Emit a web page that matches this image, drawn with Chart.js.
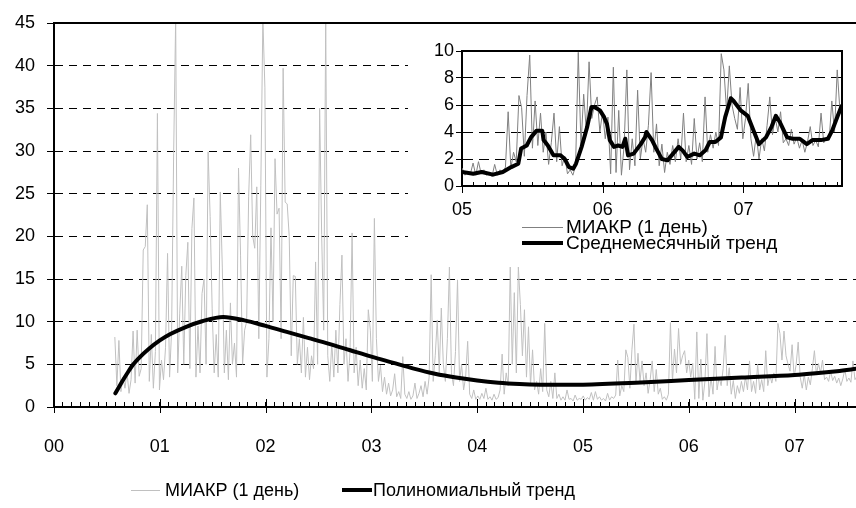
<!DOCTYPE html>
<html>
<head>
<meta charset="utf-8">
<script src="https://cdn.jsdelivr.net/npm/chart.js@4/dist/chart.umd.min.js"></script>
<style>
  body { margin: 0; background: #fff; }
  #wrap { position: relative; width: 856px; height: 508px; overflow: hidden; font-family: "Liberation Sans", Arial, sans-serif; }
  #insetBox { position: absolute; left: 408px; top: 25px; width: 448px; height: 233px; background: #fff; }
  .leg { position: absolute; display: flex; align-items: center; height: 20px; color: #000; white-space: nowrap; }
  .leg span.ln { display: inline-block; }
</style>
</head>
<body>
<div id="wrap">
  <canvas id="main" width="856" height="508"></canvas>
  <div id="insetBox">
    <canvas id="inset" width="448" height="196"></canvas>
    <div class="leg" style="left:114px;top:192px;font-size:19px;">
      <span class="ln" style="width:41px;border-top:1px solid #808080;"></span><span style="margin-left:3px">МИАКР (1 день)</span>
    </div>
    <div class="leg" style="left:114px;top:208px;font-size:19px;">
      <span class="ln" style="width:41px;border-top:4px solid #000;"></span><span style="margin-left:3px">Среднемесячный тренд</span>
    </div>
  </div>
  <div class="leg" style="left:131px;top:480px;font-size:18px;">
    <span class="ln" style="width:29px;border-top:1px solid #c0c0c0;"></span><span style="margin-left:5px">МИАКР (1 день)</span>
  </div>
  <div class="leg" style="left:342px;top:480px;font-size:18px;">
    <span class="ln" style="width:30px;border-top:4px solid #000;"></span><span style="margin-left:1px">Полиномиальный тренд</span>
  </div>
</div>
<script>
// weekly readings of the daily index, starting mid-2000 (x in years since 2000)
let dailyStart = 0.575;
let weekStep = 7 / 365.25;
let dailyValues = [
    8.2, 2.5, 7.8, 1.8, 3.5, 2.2, 4.1, 1.6, 3.2, 8.9, 2.8, 9.0, 3.6,
    4.5, 18.4, 18.8, 23.7, 3.0, 8.5, 2.2, 6.5, 34.4, 2.0, 5.5, 3.2, 7.0,
    18.0, 3.5, 9.0, 29.7, 45.5, 4.0, 11.0, 16.5, 5.0, 15.4, 19.3, 4.5, 20.9,
    24.5, 3.5, 9.5, 4.0, 13.3, 15.0, 5.0, 29.9, 22.3, 11.5, 4.0, 8.5, 3.5,
    25.2, 16.4, 4.0, 9.0, 3.2, 12.2, 5.0, 7.5, 3.5, 28.0, 17.8, 5.0, 9.0,
    10.0, 24.7, 31.9, 20.0, 18.6, 25.8, 8.0, 26.0, 45.5, 37.4, 3.5, 8.0, 21.0,
    10.0, 29.1, 22.6, 23.3, 8.0, 39.7, 24.0, 23.8, 20.0, 6.0, 15.4, 15.3, 5.0,
    8.0, 4.0, 10.5, 3.5, 7.0, 3.2, 6.0, 4.5, 17.0, 5.0, 35.0, 20.2, 9.0,
    45.5, 6.0, 3.0, 7.5, 3.5, 9.0, 4.0, 12.0, 17.8, 5.0, 8.0, 3.0, 6.5,
    20.4, 4.0, 7.0, 2.5, 5.5, 2.2, 4.5, 2.0, 11.4, 9.0, 3.0, 22.1, 8.0,
    3.0, 4.9, 1.8, 3.5, 1.5, 2.8, 1.3, 2.0, 3.9, 1.2, 1.8, 1.0, 5.9,
    1.5, 1.0, 1.8, 0.9, 1.3, 2.8, 1.0, 1.6, 2.5, 1.2, 3.0, 1.5, 3.5,
    15.5, 3.0, 6.0, 10.2, 4.0, 11.6, 5.0, 3.0, 8.0, 16.4, 4.0, 2.5, 6.5,
    14.9, 3.0, 5.0, 2.0, 3.5, 7.7, 1.5, 1.0, 2.0, 0.9, 1.3, 0.9, 1.6,
    1.0, 2.2, 0.9, 1.2, 0.8, 1.5, 0.9, 1.1, 2.0, 6.2, 1.5, 4.0, 2.5,
    16.4, 5.0, 13.4, 4.0, 16.4, 12.0, 6.0, 11.4, 3.5, 9.4, 2.5, 6.7, 2.0,
    3.0, 1.5, 4.5, 1.8, 9.8, 2.0, 1.2, 3.0, 1.0, 4.0, 1.0, 1.5, 0.8,
    1.2, 0.8, 2.0, 0.9, 1.0, 0.7, 1.4, 0.8, 1.0, 0.9, 1.3, 0.8, 1.1,
    0.9, 1.7, 0.8, 1.8, 0.9, 1.2, 0.8, 1.0, 0.7, 1.6, 0.8, 1.2, 1.0,
    1.4, 5.5, 1.3, 2.5, 1.8, 6.7, 5.8, 2.2, 6.7, 9.7, 2.8, 6.3, 3.0,
    5.4, 2.5, 4.0, 1.6, 3.2, 5.4, 1.8, 4.4, 1.5, 2.2, 0.9, 1.2, 0.8,
    1.5, 9.9, 3.0, 6.8, 4.0, 9.2, 5.0, 6.0, 6.6, 4.0, 5.5, 3.5, 5.1,
    0.9, 8.8, 1.0, 5.6, 0.8, 3.0, 8.6, 1.2, 3.5, 1.5, 7.1, 2.0, 3.5,
    2.5, 4.5, 8.4, 2.5, 4.6, 1.5, 3.1, 1.0, 2.5, 1.6, 3.0, 1.8, 3.5,
    2.0, 5.4, 1.8, 3.0, 1.6, 5.0, 2.0, 3.2, 1.8, 6.6, 2.5, 3.8, 2.8,
    4.0, 3.0, 9.8, 8.6, 5.5, 8.9, 6.0, 5.0, 4.2, 7.3, 3.5, 5.0, 7.6,
    3.5, 2.2, 3.8, 2.0, 3.5, 2.6, 4.5, 6.6, 3.8, 5.1, 4.0, 5.5, 3.2,
    3.5, 3.0, 4.2, 3.1, 3.6, 2.8, 3.4, 2.5, 3.3, 4.4, 3.0, 3.4, 2.9,
    5.4, 3.2, 3.6, 3.4, 6.3, 4.0, 8.6, 5.6, 5.2
];

// polynomial trend (main chart)
let trendYears = [0.58, 0.65, 0.7, 0.75, 0.8, 0.9, 1.0, 1.1, 1.25, 1.4,
    1.6, 1.8, 2.0, 2.2, 2.4, 2.6, 2.8, 3.0, 3.2, 3.4,
    3.6, 3.8, 4.0, 4.2, 4.4, 4.6, 4.8, 5.0, 5.5, 6.0,
    6.5, 7.0, 7.2, 7.4, 7.6];
let trendValues = [1.6, 3.1, 4.1, 5.0, 5.7, 6.85, 7.8, 8.55, 9.4, 10.05,
    10.55, 10.15, 9.5, 8.8, 8.1, 7.4, 6.65, 5.9, 5.2, 4.5,
    3.9, 3.45, 3.1, 2.85, 2.7, 2.62, 2.6, 2.62, 2.85, 3.15,
    3.45, 3.75, 3.95, 4.2, 4.5];

// monthly average trend (inset)
let monthlyYears = [5.00, 5.08, 5.14, 5.22, 5.29, 5.35, 5.40, 5.42, 5.46, 5.49, 5.53, 5.57,
    5.58, 5.61, 5.65, 5.70, 5.73, 5.76, 5.79, 5.81, 5.85, 5.89, 5.92, 5.94,
    5.98, 6.01, 6.03, 6.05, 6.08, 6.11, 6.14, 6.16, 6.18, 6.22, 6.27, 6.30,
    6.31, 6.35, 6.38, 6.42, 6.46, 6.50, 6.54, 6.57, 6.60, 6.65, 6.69, 6.73,
    6.76, 6.80, 6.84, 6.87, 6.91, 6.93, 6.98, 7.03, 7.06, 7.11, 7.16, 7.20,
    7.23, 7.26, 7.31, 7.35, 7.40, 7.45, 7.49, 7.55, 7.60, 7.63, 7.67, 7.70];
let monthlyValues = [1.04, 0.91, 1.04, 0.84, 1.04, 1.4, 1.65, 2.77, 3.0, 3.6, 4.1, 4.1,
    3.4, 3.0, 2.27, 2.27, 2.0, 1.4, 1.28, 1.65, 2.9, 4.4, 5.85, 5.85,
    5.6, 5.1, 4.6, 3.4, 2.9, 3.0, 2.9, 3.5, 2.27, 2.4, 3.1, 3.6,
    4.0, 3.4, 2.77, 2.0, 1.9, 2.4, 2.9, 2.6, 2.15, 2.4, 2.27, 2.64,
    3.26, 3.26, 3.6, 5.1, 6.5, 6.3, 5.6, 5.2, 4.4, 3.1, 3.6, 4.4,
    5.2, 4.7, 3.6, 3.5, 3.5, 3.1, 3.4, 3.4, 3.5, 4.1, 5.2, 6.0];

let mainRange = [0, 7.58];
let insetRange = [5, 7.70];

let fontFamily = '"Liberation Sans", Arial, sans-serif';

let dailyPoints = dailyValues.map((v, i) => ({ x: dailyStart + i * weekStep, y: v }));
let trendPoints = trendValues.map((v, i) => ({ x: trendYears[i], y: v }));
let monthlyPoints = monthlyValues.map((v, i) => ({ x: monthlyYears[i], y: v }));

function monthTicks(scale) {
    let ticks = [];
    for (let m = Math.ceil(scale.min * 12 - 1e-6); m <= scale.max * 12 + 1e-6; m++) {
        ticks.push({ value: m / 12 });
    }
    scale.ticks = ticks;
}

function yearLabel(v) {
    if (Math.abs(v - Math.round(v)) < 1e-6) {
        return String(Math.round(v)).padStart(2, '0');
    }
    return '';
}

function fixHeight(h) {
    return (s) => {
        s.height = h;
        s.paddingLeft = 0;
        s.paddingRight = 0;
    };
}

// solid top (and right) frame line plus the longer year ticks
function framePlugin(up, down, drawRight) {
    return {
        id: 'frame',
        afterDraw(chart) {
            let ctx = chart.ctx;
            let a = chart.chartArea;
            let xs = chart.scales.x;
            ctx.save();
            ctx.strokeStyle = '#000';
            ctx.lineWidth = 2;
            ctx.beginPath();
            ctx.moveTo(a.left, a.top);
            ctx.lineTo(a.right, a.top);
            if (drawRight) ctx.lineTo(a.right, a.bottom);
            ctx.stroke();
            ctx.lineWidth = 1;
            for (let v = Math.ceil(xs.min); v <= xs.max; v++) {
                let px = Math.round(xs.getPixelForValue(v)) + 0.5;
                ctx.beginPath();
                ctx.moveTo(px, a.bottom - up);
                ctx.lineTo(px, a.bottom + down);
                ctx.stroke();
            }
            ctx.restore();
        }
    };
}

new Chart(document.getElementById('main').getContext('2d'), {
    type: 'line',
    data: {
        datasets: [{
            label: 'Полиномиальный тренд',
            data: trendPoints,
            borderColor: '#000',
            borderWidth: 4,
            pointRadius: 0,
            cubicInterpolationMode: 'monotone',
            borderCapStyle: 'round'
        }, {
            label: 'МИАКР (1 день)',
            data: dailyPoints,
            borderColor: '#c0c0c0',
            borderWidth: 1,
            pointRadius: 0,
            tension: 0,
            borderJoinStyle: 'round'
        }]
    },
    options: {
        responsive: false,
        devicePixelRatio: 1,
        animation: false,
        layout: { padding: { top: 23, right: 0, bottom: 41, left: 0 } },
        plugins: { legend: { display: false }, tooltip: { enabled: false } },
        scales: {
            x: {
                type: 'linear',
                min: mainRange[0],
                max: mainRange[1],
                afterBuildTicks: monthTicks,
                afterFit: fixHeight(60),
                grid: { drawOnChartArea: false, color: '#000', tickLength: -5, lineWidth: 1 },
                border: { color: '#000', width: 2 },
                ticks: {
                    autoSkip: false,
                    maxRotation: 0,
                    padding: 34,
                    color: '#000',
                    font: { family: fontFamily, size: 18 },
                    callback: yearLabel
                }
            },
            y: {
                min: 0,
                max: 45,
                afterFit: (s) => { s.width = 54; },
                grid: {
                    color: (c) => (c.tick && c.tick.value === 45) ? 'rgba(0,0,0,0)' : '#000',
                    tickColor: '#000',
                    tickWidth: 1,
                    tickLength: 7
                },
                border: { color: '#000', width: 2, dash: [8, 6] },
                ticks: {
                    stepSize: 5,
                    padding: 12,
                    color: '#000',
                    font: { family: fontFamily, size: 18 }
                }
            }
        }
    },
    plugins: [framePlugin(8, 6, false)]
});

new Chart(document.getElementById('inset').getContext('2d'), {
    type: 'line',
    data: {
        datasets: [{
            label: 'Среднемесячный тренд',
            data: monthlyPoints,
            borderColor: '#000',
            borderWidth: 4,
            pointRadius: 0,
            tension: 0,
            borderJoinStyle: 'round'
        }, {
            label: 'МИАКР (1 день)',
            data: dailyPoints,
            borderColor: '#808080',
            borderWidth: 1,
            pointRadius: 0,
            tension: 0,
            borderJoinStyle: 'round'
        }]
    },
    options: {
        responsive: false,
        devicePixelRatio: 1,
        animation: false,
        layout: { padding: { top: 26, right: 14, bottom: 0, left: 0 } },
        plugins: { legend: { display: false }, tooltip: { enabled: false } },
        scales: {
            x: {
                type: 'linear',
                min: insetRange[0],
                max: insetRange[1],
                afterBuildTicks: monthTicks,
                afterFit: fixHeight(35),
                grid: { drawOnChartArea: false, color: '#000', tickLength: -4, lineWidth: 1 },
                border: { color: '#000', width: 2 },
                ticks: {
                    autoSkip: false,
                    maxRotation: 0,
                    padding: 17,
                    color: '#000',
                    font: { family: fontFamily, size: 18 },
                    callback: yearLabel
                }
            },
            y: {
                min: 0,
                max: 10,
                afterFit: (s) => { s.width = 54; },
                grid: {
                    color: (c) => (c.tick && c.tick.value === 10) ? 'rgba(0,0,0,0)' : '#000',
                    tickColor: '#000',
                    tickWidth: 1,
                    tickLength: 6
                },
                border: { color: '#000', width: 2, dash: [10, 6] },
                ticks: {
                    stepSize: 2,
                    padding: 2,
                    color: '#000',
                    font: { family: fontFamily, size: 18 }
                }
            }
        }
    },
    plugins: [framePlugin(4, 7, true)]
});
</script>
</body>
</html>
